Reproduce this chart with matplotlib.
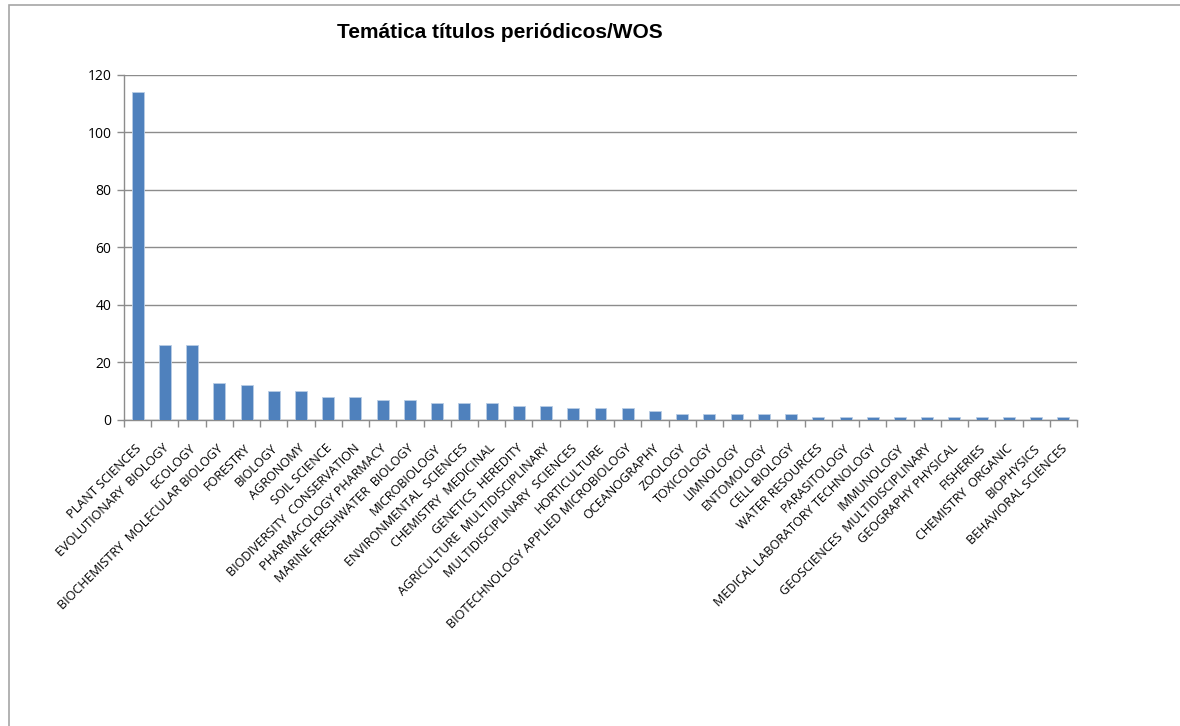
import numpy as np
import matplotlib.pyplot as plt
import matplotlib.transforms as mtransforms
from matplotlib.patches import Rectangle

categories = [
    "PLANT SCIENCES", "EVOLUTIONARY  BIOLOGY", "ECOLOGY",
    "BIOCHEMISTRY  MOLECULAR BIOLOGY", "FORESTRY", "BIOLOGY", "AGRONOMY",
    "SOIL SCIENCE", "BIODIVERSITY  CONSERVATION", "PHARMACOLOGY PHARMACY",
    "MARINE FRESHWATER  BIOLOGY", "MICROBIOLOGY", "ENVIRONMENTAL  SCIENCES",
    "CHEMISTRY  MEDICINAL", "GENETICS  HEREDITY",
    "AGRICULTURE  MULTIDISCIPLINARY", "MULTIDISCIPLINARY  SCIENCES",
    "HORTICULTURE", "BIOTECHNOLOGY APPLIED MICROBIOLOGY", "OCEANOGRAPHY",
    "ZOOLOGY", "TOXICOLOGY", "LIMNOLOGY", "ENTOMOLOGY", "CELL BIOLOGY",
    "WATER RESOURCES", "PARASITOLOGY", "MEDICAL LABORATORY TECHNOLOGY",
    "IMMUNOLOGY", "GEOSCIENCES  MULTIDISCIPLINARY", "GEOGRAPHY PHYSICAL",
    "FISHERIES", "CHEMISTRY  ORGANIC", "BIOPHYSICS", "BEHAVIORAL SCIENCES",
]
counts = [114, 26, 26, 13, 12, 10, 10, 8, 8, 7, 7, 6, 6, 6, 5, 5, 4, 4, 4, 3,
          2, 2, 2, 2, 2, 1, 1, 1, 1, 1, 1, 1, 1, 1, 1]
y_ticks = [0, 20, 40, 60, 80, 100, 120]

plt.rcParams['font.family'] = ['Open Sans', 'DejaVu Sans']

fig = plt.figure(figsize=(11.8, 7.26), dpi=100)
ax = fig.add_axes([0.1051, 0.4215, 0.8076, 0.4752])

# chart area border
fig.patches.append(Rectangle((9 / 1180, -0.1), 1.2, 1.1 - 5 / 726,
                             transform=fig.transFigure, fill=False,
                             edgecolor='#a6a6a6', linewidth=1.2))

x = np.arange(len(categories))
ax.bar(x, counts, width=0.44, color='#4f81bd', edgecolor='#b9cde5',
       linewidth=0.6, zorder=3)

ax.set_xlim(-0.5, len(categories) - 0.5)
ax.set_ylim(0, 120)
ax.set_yticks(y_ticks)
ax.yaxis.grid(True, color='#8c8c8c', linewidth=1)
ax.set_axisbelow(True)
for s in ['top', 'right']:
    ax.spines[s].set_visible(False)
for s in ['left', 'bottom']:
    ax.spines[s].set_color('#8c8c8c')
    ax.spines[s].set_linewidth(1)

# tick marks between categories, labels at bar centres
ax.set_xticks(np.arange(len(categories) + 1) - 0.5)
ax.set_xticklabels([])
ax.set_xticks(x, minor=True)
ax.set_xticklabels(categories, minor=True, rotation=45, ha='right',
                   va='center', rotation_mode='anchor', fontsize=9.1)
ax.tick_params(axis='x', which='major', length=5, color='#8c8c8c', width=1)
ax.tick_params(axis='x', which='minor', length=0, pad=19)
ax.tick_params(axis='y', length=5, color='#8c8c8c', width=1, labelsize=10,
               pad=4)

shift = mtransforms.ScaledTranslation(2 / 100, 0, fig.dpi_scale_trans)
for lbl in ax.get_xticklabels(minor=True):
    lbl.set_transform(lbl.get_transform() + shift)

fig.text(500 / 1180, 1 - 32 / 726, 'Temática títulos periódicos/WOS',
         ha='center', va='center', fontsize=15, fontweight='bold',
         family='Liberation Sans')

fig.savefig('out.png', dpi=100)
